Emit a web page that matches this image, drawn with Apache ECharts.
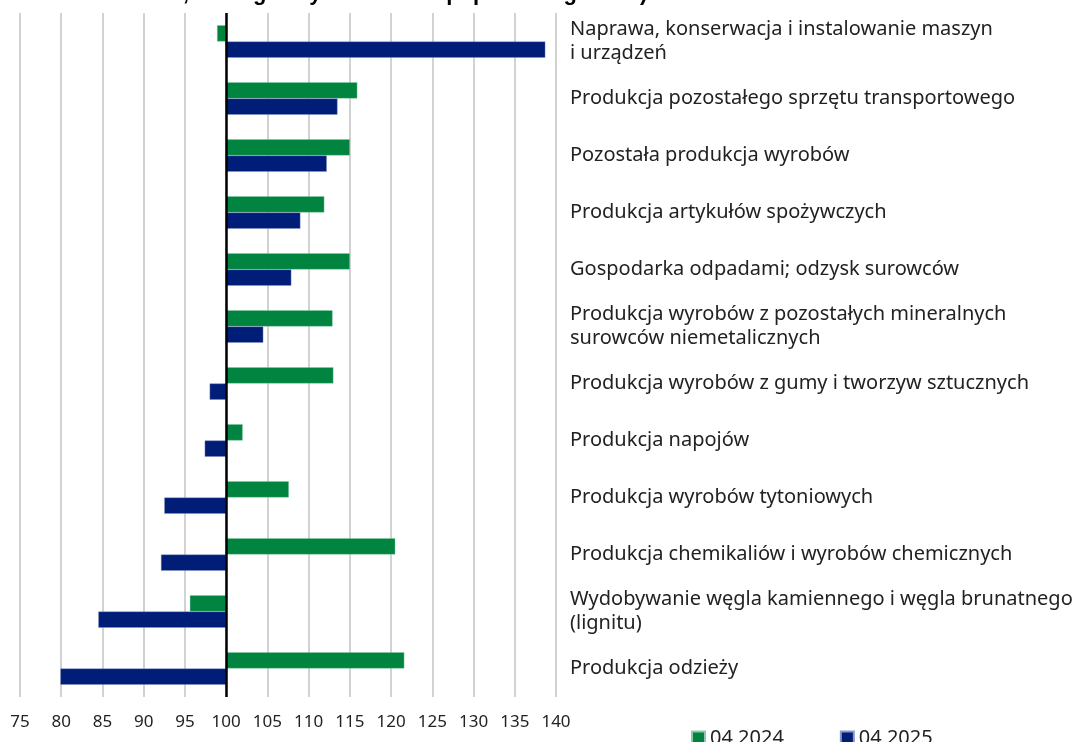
<!DOCTYPE html>
<html>
<head>
<meta charset="utf-8">
<script src="https://cdn.jsdelivr.net/npm/echarts@6/dist/echarts.min.js"></script>
<style>
  html, body { margin: 0; padding: 0; background: #fff; }
  #chart { width: 1083px; height: 742px; }
</style>
</head>
<body>
<div id="chart"></div>
<script>
// dane: analogiczny okres roku poprzedniego = 100
var categories = [
    'Naprawa, konserwacja i instalowanie maszyn\ni urządzeń',
    'Produkcja pozostałego sprzętu transportowego',
    'Pozostała produkcja wyrobów',
    'Produkcja artykułów spożywczych',
    'Gospodarka odpadami; odzysk surowców',
    'Produkcja wyrobów z pozostałych mineralnych\nsurowców niemetalicznych',
    'Produkcja wyrobów z gumy i tworzyw sztucznych',
    'Produkcja napojów',
    'Produkcja wyrobów tytoniowych',
    'Produkcja chemikaliów i wyrobów chemicznych',
    'Wydobywanie węgla kamiennego i węgla brunatnego\n(lignitu)',
    'Produkcja odzieży'
];
var values2024 = [98.9, 115.9, 115.0, 111.9, 115.0, 112.9, 113.0, 102.0, 107.6, 120.5, 95.6, 121.6];
var values2025 = [138.7, 113.5, 112.2, 109.0, 107.9, 104.5, 98.0, 97.4, 92.5, 92.1, 84.5, 79.9];
var seriesNames = ['04 2024', '04 2025'];
var baseValue = 100;

var fontFamily = '"Noto Sans", "Open Sans", sans-serif';

// słupki rysowane od 100 -> przesunięcie o bazę
function shift(arr) {
    return arr.map(function (v) { return +(v - baseValue).toFixed(2); });
}

var chart = echarts.init(document.getElementById('chart'));

var option = {
    backgroundColor: '#ffffff',
    animation: false,
    textStyle: { fontFamily: fontFamily },
    title: {
        text: 'stałe; analogiczny okres roku poprzedniego=100)',
        left: 127,
        top: -22,
        textStyle: { fontSize: 22, fontWeight: 'bold', color: '#000', fontFamily: '"Liberation Sans", Arial, sans-serif' }
    },
    legend: {
        data: seriesNames,
        left: 686,
        top: 723,
        itemGap: 56,
        itemWidth: 13,
        itemHeight: 13,
        icon: 'rect',
        textStyle: { fontSize: 20, color: '#222', fontFamily: fontFamily }
    },
    grid: { left: 20, right: 527, top: 13, bottom: 45, containLabel: false },
    xAxis: {
        type: 'value',
        min: -25,
        max: 40,
        interval: 5,
        axisLine: { show: false },
        axisTick: { show: false },
        splitLine: { show: true, lineStyle: { color: '#c3c3c3', width: 1.5 } },
        axisLabel: {
            margin: 17,
            fontSize: 17,
            color: '#222',
            formatter: function (v) { return String(v + baseValue); }
        }
    },
    yAxis: {
        type: 'category',
        data: categories,
        inverse: true,
        position: 'right',
        axisLine: { show: false },
        axisTick: { show: false },
        splitLine: { show: false },
        axisLabel: {
            margin: 14,
            fontSize: 20,
            lineHeight: 24,
            color: '#222',
            align: 'left'
        }
    },
    series: [
        {
            name: seriesNames[0],
            type: 'bar',
            data: shift(values2024),
            barGap: '0%',
            barCategoryGap: '43%',
            itemStyle: { color: '#00843f', borderColor: '#8cc9a8', borderWidth: 0.4 },
            markLine: {
                silent: true,
                symbol: 'none',
                label: { show: false },
                lineStyle: { color: '#000', width: 2.5, type: 'solid' },
                data: [{ xAxis: 0 }]
            }
        },
        {
            name: seriesNames[1],
            type: 'bar',
            data: shift(values2025),
            barGap: '0%',
            barCategoryGap: '43%',
            itemStyle: { color: '#001e78', borderColor: '#8a98c8', borderWidth: 0.4 }
        }
    ]
};

chart.setOption(option);
window.addEventListener('resize', chart.resize);
</script>
</body>
</html>
